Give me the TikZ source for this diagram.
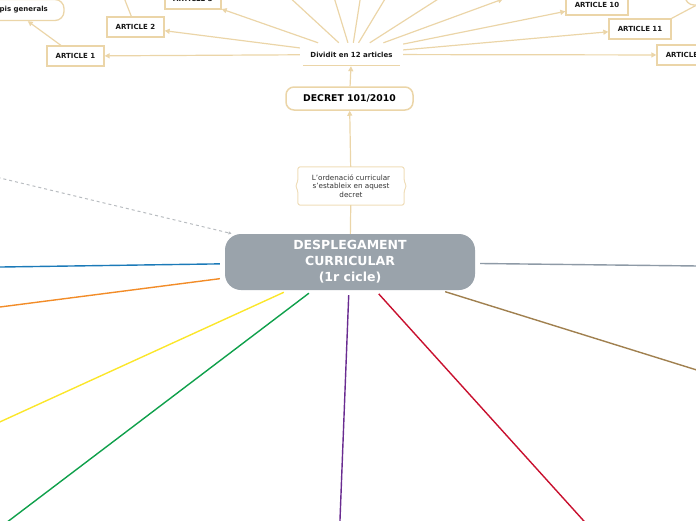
\documentclass[tikz,border=0pt]{standalone}
\usepackage{fontspec}
\setmainfont{DejaVu Sans}
\usetikzlibrary{arrows.meta,calc}
\definecolor{mmtan}{HTML}{EBD5A8}
\definecolor{cgray}{HTML}{9AA3AB}
\definecolor{cblue}{HTML}{1B7AB8}
\definecolor{corange}{HTML}{F28C28}
\definecolor{cyellow}{HTML}{FBE62A}
\definecolor{cgreen}{HTML}{0FA04B}
\definecolor{cpurple}{HTML}{6A2C91}
\definecolor{cred}{HTML}{C8102E}
\definecolor{cbrown}{HTML}{A0804F}
\definecolor{cgblue}{HTML}{8E9AA6}
\definecolor{cdot}{HTML}{B8BCC0}
\begin{document}
\begin{tikzpicture}[x=1pt,y=-1pt,
  art/.style={draw=mmtan,line width=1.3pt,fill=white,minimum width=57pt,minimum height=20pt,inner sep=0pt,font=\fontsize{7}{8}\selectfont\bfseries,text=black!90},
  con/.style={draw=mmtan,line width=1.2pt},
  arr/.style={con,-{Triangle[length=5pt,width=5pt]}},
  branch/.style={line width=1.4pt,shorten <=5pt},
]
\useasboundingbox (0,0) rectangle (696,520);

% central node
\node[fill=cgray,rounded corners=16pt,minimum width=250pt,minimum height=56pt,text=white,
      font=\fontsize{12.5}{16}\selectfont\bfseries,align=center,inner sep=0pt] (cn) at (350,262)
      {DESPLEGAMENT\\CURRICULAR\\(1r cicle)};

% callout
\node[minimum width=106pt,minimum height=38pt,align=center,inner sep=0pt,
      font=\fontsize{7.2}{8.6}\selectfont,text=black!80] (co) at (351,186)
      {L'ordenació curricular\\s'estableix en aquest\\decret};
\draw[mmtan!80,line width=1pt,rounded corners=2.5pt]
  (co.north west) -- (co.north east) -- ($(co.east)+(0,-4)$) -- ($(co.east)+(2.5,0)$) --
  ($(co.east)+(0,4)$) -- (co.south east) -- (co.south west) -- ($(co.west)+(0,4)$) --
  ($(co.west)+(-2.5,0)$) -- ($(co.west)+(0,-4)$) -- cycle;

% decret
\node[draw=mmtan,line width=1.5pt,rounded corners=8pt,minimum width=127pt,minimum height=23pt,
      inner sep=0pt,font=\fontsize{9.3}{11}\selectfont\bfseries] (dec) at (349.5,98.5) {DECRET 101/2010};

% dividit
\node[minimum width=103pt,minimum height=23pt,inner sep=0pt,font=\fontsize{7}{8}\selectfont\bfseries,text=black!90]
      (dv) at (351.5,54.5) {Dividit en 12 articles};
\draw[mmtan,line width=1pt] ($(dv.south west)+(3,-0.5)$) -- ($(dv.south east)+(-3,-0.5)$);

% articles
\node[art] (a1) at (75.5,56) {ARTICLE 1};
\node[art] (a2) at (135.5,27) {ARTICLE 2};
\node[art,minimum width=56pt] (a3) at (193,-1) {ARTICLE 3};
\node[art,minimum width=62pt] (a10) at (597,5) {ARTICLE 10};
\node[art,minimum width=62pt] (a11) at (640,29) {ARTICLE 11};
\node[art,minimum width=62pt] (a12) at (688,55) {ARTICLE 12};
\node[draw=mmtan,line width=1.3pt,rounded corners=9pt,minimum width=103pt,minimum height=21pt,
      inner sep=0pt,font=\fontsize{7}{8}\selectfont\bfseries,text=black!90] (pg) at (12.5,10) {Principis generals};
\node[draw=mmtan,line width=1.3pt,rounded corners=9pt,minimum width=80pt,minimum height=30pt] (tr) at (725,-10) {};

% off-screen ends
\coordinate (o4) at (286,-6);
\coordinate (o5) at (333,-6);
\coordinate (o6) at (361,-6);
\coordinate (o7) at (388,-6);
\coordinate (o8) at (446,-6);
\coordinate (o9) at (503,-1);
\coordinate (o2) at (121,-10);

% tan connectors
\draw[arr] (dv) -- (a1);
\draw[arr] (dv) -- (a2);
\draw[arr] (dv) -- (a3);
\draw[con] (dv) -- (o4);
\draw[con] (dv) -- (o5);
\draw[con] (dv) -- (o6);
\draw[con] (dv) -- (o7);
\draw[con] (dv) -- (o8);
\draw[arr] (dv) -- (o9);
\draw[arr] (dv) -- (a10);
\draw[arr] (dv) -- (a11);
\draw[arr] (dv) -- (a12);
\draw[arr] (a1) -- (pg);
\draw[con] (a2) -- (o2);
\draw[con] (a11.north east) -- (tr);
\draw[arr] (dec) -- (dv);
\draw[arr] (co) -- (dec);
\draw[con] (cn) -- (co);

% coloured branches
\coordinate (bBlue) at (-20,267.3);
\coordinate (bOrange) at (-21,309.7);
\coordinate (bYellow) at (-20,431);
\coordinate (bGreen) at (-2,529);
\coordinate (bPurple) at (339.6,530);
\coordinate (bRed) at (592,530);
\coordinate (bBrown) at (716,376);
\coordinate (bGray) at (716,266.2);
\coordinate (bDot) at (-20,173.2);
\draw[branch,cblue] (cn) -- (bBlue);
\draw[branch,corange] (cn) -- (bOrange);
\draw[branch,cyellow] (cn) -- (bYellow);
\draw[branch,cgreen] (cn) -- (bGreen);
\draw[branch,cpurple] (cn) -- (bPurple);
\draw[branch,cred] (cn) -- (bRed);
\draw[branch,cbrown] (cn) -- (bBrown);
\draw[branch,cgblue] (cn) -- (bGray);
\draw[cdot,line width=1pt,dash pattern=on 3pt off 3pt,-{Triangle[length=3pt,width=3pt]},shorten >=1pt] (bDot) -- (cn);
\end{tikzpicture}
\end{document}
